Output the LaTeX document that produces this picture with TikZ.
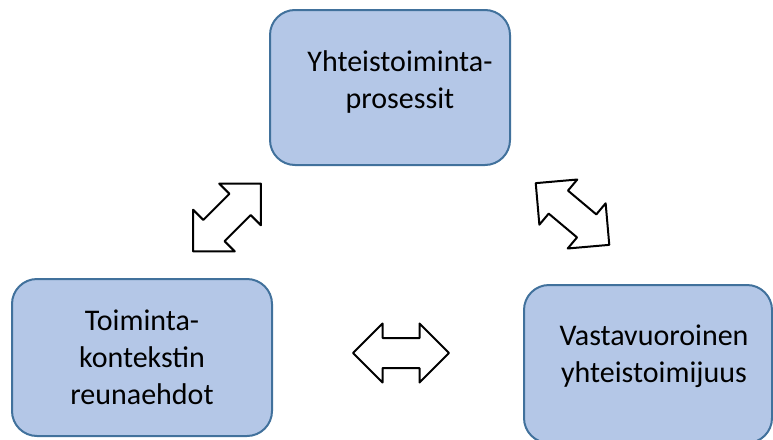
\documentclass[tikz,border=0pt]{standalone}
\usepackage{fontspec}
\setmainfont{Carlito}
\usetikzlibrary{shapes.arrows}
\definecolor{Bfill}{RGB}{180,199,231}
\definecolor{Bline}{RGB}{65,113,156}

\begin{document}
\begin{tikzpicture}[x=1pt,y=-1pt,line join=round,
  box/.style={rectangle,rounded corners=25pt,draw=Bline,line width=2pt,fill=Bfill,inner sep=0pt},
  boxtext/.style={align=center,inner sep=0pt,font=\fontsize{30}{37}\selectfont},
  twoway/.style={double arrow,draw=black,line width=2pt,fill=white,
    inner xsep=0pt,inner ysep=14pt,minimum height=96pt,
    double arrow head extend=14.5pt,double arrow head indent=0pt}]
\path[use as bounding box] (0,0) rectangle (773,439);
\clip (0,0) rectangle (773,439);
% the three boxes
\node[box,minimum width=240pt,minimum height=155pt,
  label={[boxtext,xshift=10pt,yshift=5pt]center:{Yhteistoiminta-\\prosessit}}] (proc) at (390,87.5) {};
\node[box,minimum width=260pt,minimum height=157pt,
  label={[boxtext]center:{Toiminta-\\kontekstin\\reunaehdot}}] (reuna) at (142,357.5) {};
\node[box,minimum width=248pt,minimum height=158pt,
  label={[boxtext,xshift=6pt,yshift=8pt]center:{Vastavuoroinen\\yhteistoimijuus}}] (vasta) at (648,364) {};
% two-way arrows
\node[twoway,rotate=45] (a1) at (227,217.5) {};
\node[twoway,rotate=-40] (a2) at (572.5,214) {};
\node[twoway] (a3) at (401,353) {};
\end{tikzpicture}
\end{document}
